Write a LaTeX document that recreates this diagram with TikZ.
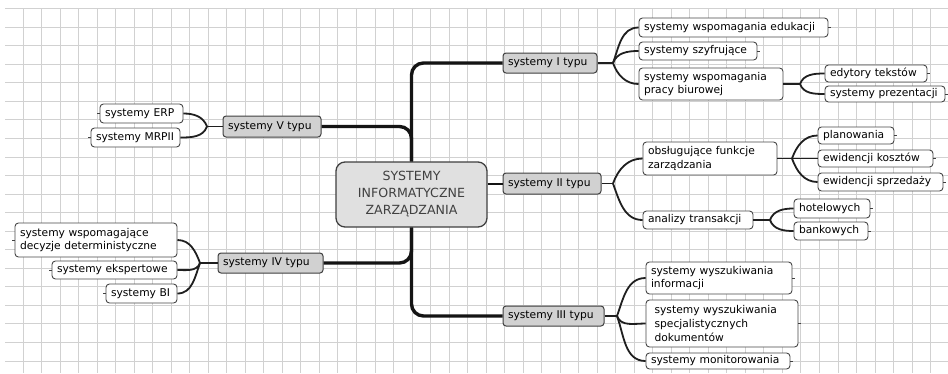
\documentclass[tikz,border=0pt]{standalone}
\usepackage{fontspec}
\setmainfont{DejaVu Sans}
\begin{document}
\begin{tikzpicture}[x=1pt,y=1pt,
  gridline/.style={line width=0.8pt, black!18},
  leaf/.style={draw=black!72, fill=white, rounded corners=3.5pt, line width=0.9pt,
    inner xsep=5pt, inner ysep=0pt, align=left, text=black,
    font=\fontsize{10.7}{13.8}\selectfont},
  cat/.style={leaf, fill=black!18, draw=black!75, rounded corners=3pt, line width=1pt},
  core/.style={draw=black!75, fill=black!12, rounded corners=9pt, line width=1.3pt,
    align=center, text=black!75, font=\fontsize{12.6}{17}\selectfont},
  trunk/.style={line width=3.4pt, black!92, rounded corners=12pt},
  twig/.style={line width=1.8pt, black!88},
  stub/.style={line width=0.9pt, black!75},
  bup/.style={out=70, in=180},
  bdn/.style={out=-70, in=180},
  bst/.style={out=0, in=180},
  lup/.style={out=110, in=0},
  ldn/.style={out=250, in=0}]
\newcommand\mnode[7]{%
  \pgfmathsetmacro\mnw{#4-#3-10}%
  \pgfmathsetmacro\mncx{(#3+#4)/2}%
  \pgfmathsetmacro\mncy{-(#5+#6)/2}%
  \pgfmathsetmacro\mnh{#6-#5}%
  \node[#1, text width=\mnw pt, minimum height=\mnh pt] (#2) at (\mncx,\mncy) {#7};}
\useasboundingbox (0,0) rectangle (948,-373);
\fill[white] (0,0) rectangle (948,-373);
% grid
\begin{scope}
\clip (5,-8) rectangle (948,-373);
\foreach \k in {0,...,50} \draw[gridline] ({4.5+18.52*\k},0) -- ++(0,-373);
\foreach \k in {0,...,20} \draw[gridline] (0,{-8.5-18.55*\k}) -- ++(948,0);
\end{scope}
% centre
\node[core, minimum width=151pt, minimum height=65pt] (C) at (411.5,-194.5) {SYSTEMY\\INFORMATYCZNE\\ZARZĄDZANIA};
% categories
\mnode{cat}{I}{503}{597}{53}{73}{systemy~I~typu}
\mnode{cat}{II}{503}{601}{173}{194}{systemy~II~typu}
\mnode{cat}{III}{503}{604}{306}{326}{systemy~III~typu}
\mnode{cat}{V}{223}{321}{116}{137}{systemy~V~typu}
\mnode{cat}{IV}{218}{323}{253}{273}{systemy~IV~typu}
% right leaves
\mnode{leaf}{L1}{639}{828}{18}{37}{systemy~wspomagania~edukacji}
\mnode{leaf}{L2}{639}{757}{42}{60}{systemy~szyfrujące}
\mnode{leaf}{L3}{639}{783}{68}{100}{systemy~wspomagania\\pracy~biurowej}
\mnode{leaf}{L3a}{825}{927}{65}{82}{edytory~tekstów}
\mnode{leaf}{L3b}{825}{945}{86}{102}{systemy~prezentacji}
\mnode{leaf}{L4}{643}{777}{142}{175}{obsługujące~funkcje\\zarządzania}
\mnode{leaf}{L4a}{818}{894}{127}{144}{planowania}
\mnode{leaf}{L4b}{818}{933}{150}{167}{ewidencji~kosztów}
\mnode{leaf}{L4c}{818}{943}{173}{191}{ewidencji~sprzedaży}
\mnode{leaf}{L5}{643}{753}{211}{229}{analizy~transakcji}
\mnode{leaf}{L5a}{794}{870}{199}{218}{hotelowych}
\mnode{leaf}{L5b}{794}{868}{222}{240}{bankowych}
\mnode{leaf}{L6}{646}{792}{262}{294}{systemy~wyszukiwania\\informacji}
\mnode{leaf}{L7}{646}{798}{300}{347}{~systemy~wyszukiwania\\~specjalistycznych\\~dokumentów}
\mnode{leaf}{L8}{646}{790}{353}{369}{systemy~monitorowania}
% left leaves
\mnode{leaf}{R1}{100}{183}{104}{123}{systemy~ERP}
\mnode{leaf}{R2}{91}{180}{128}{147}{systemy~MRPII}
\mnode{leaf}{R3}{15}{177}{223}{257}{systemy~wspomagające\\decyzje~deterministyczne}
\mnode{leaf}{R4}{52}{177}{261}{279}{systemy~ekspertowe}
\mnode{leaf}{R5}{106}{177}{284}{303}{systemy~BI}
% junctions
\coordinate (jI) at (613,-63);
\coordinate (jL3) at (800,-84);
\coordinate (jII) at (613,-183.5);
\coordinate (jL4) at (792,-158.5);
\coordinate (jL5) at (770,-220);
\coordinate (jIII) at (617,-316);
\coordinate (jV) at (207,-126.5);
\coordinate (jIV) at (200,-263);
% trunk
\draw[trunk] (C.north) |- (I.west);
\draw[trunk] (C.north) |- (V.east);
\draw[trunk] (C.south) |- (III.west);
\draw[trunk] (C.south) |- (IV.east);
\draw[line width=2pt, black!92] (C.east |- II.west) -- (II.west);
% twigs right
\draw[twig] (I.east) -- (jI);
\draw[twig] (jI) to[bup] (L1.west);
\draw[twig] (jI) to[bup] (L2.west);
\draw[twig] (jI) to[bdn] (L3.west);
\draw[twig] (L3.east) -- (jL3);
\draw[twig] (jL3) to[bup] (L3a.west);
\draw[twig] (jL3) to[bdn] (L3b.west);
\draw[twig] (II.east) -- (jII);
\draw[twig] (jII) to[bup] (L4.west);
\draw[twig] (jII) to[bdn] (L5.west);
\draw[twig] (L4.east) -- (jL4);
\draw[twig] (jL4) to[bup] (L4a.west);
\draw[twig] (jL4) to[bst] (L4b.west);
\draw[twig] (jL4) to[bdn] (L4c.west);
\draw[twig] (L5.east) -- (jL5);
\draw[twig] (jL5) to[bup] (L5a.west);
\draw[twig] (jL5) to[bdn] (L5b.west);
\draw[twig] (III.east) -- (jIII);
\draw[twig] (jIII) to[bup] (L6.west);
\draw[twig] (jIII) to[bdn] (L7.west);
\draw[twig] (jIII) to[bdn] (L8.west);
% twigs left
\draw[twig] (V.west) -- (jV);
\draw[twig] (jV) to[lup] (R1.east);
\draw[twig] (jV) to[ldn] (R2.east);
\draw[twig] (IV.west) -- (jIV);
\draw[twig] (jIV) to[lup] (R3.east);
\draw[twig] (jIV) to[ldn] (R4.east);
\draw[twig] (jIV) to[ldn] (R5.east);
% stubs
\foreach \n in {L1,L2,L3a,L3b,L4a,L4b,L4c,L5a,L5b,L6,L7,L8}
  \draw[stub] (\n.east) -- ++(3,0);
\foreach \n in {R1,R2,R3,R4,R5}
  \draw[stub] (\n.west) -- ++(-3,0);
\end{tikzpicture}
\end{document}
